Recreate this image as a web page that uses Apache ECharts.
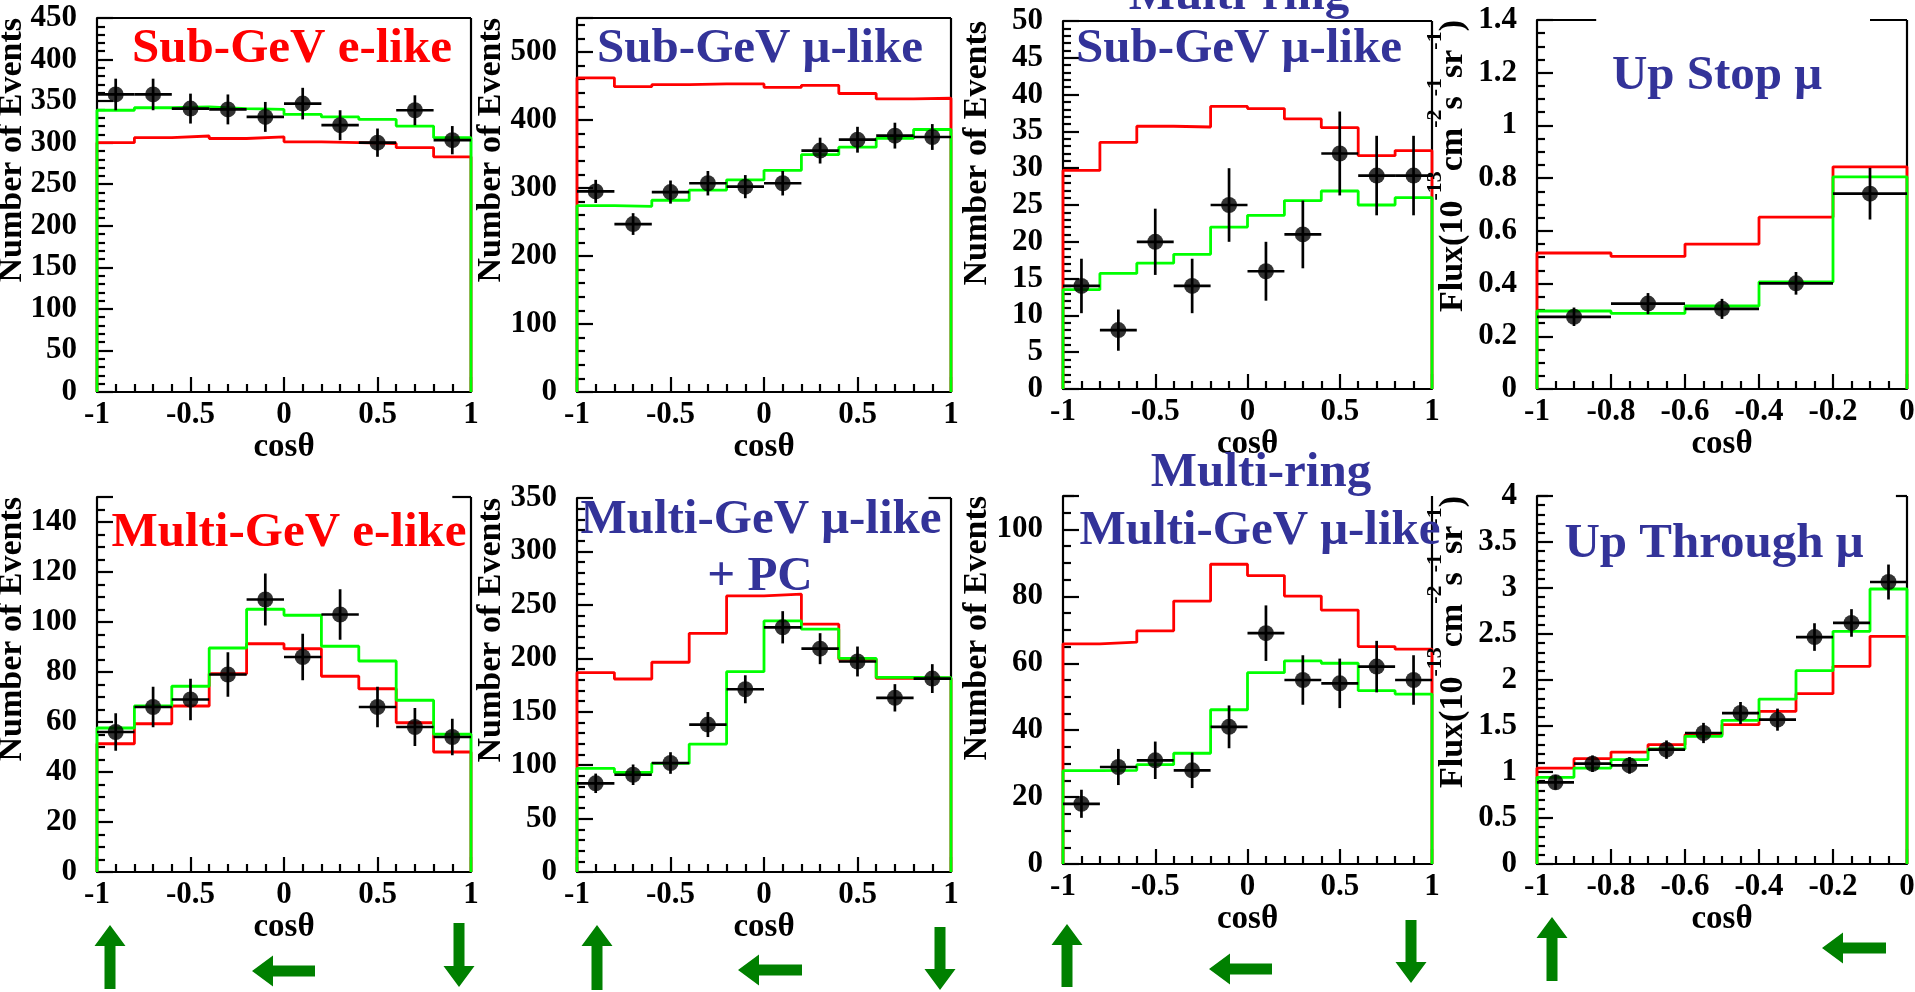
<!DOCTYPE html>
<html>
<head>
<meta charset="utf-8">
<script src="https://cdn.jsdelivr.net/npm/echarts@6.0.0/dist/echarts.min.js"></script>
<style>
  html, body { margin: 0; padding: 0; background: #ffffff; }
  #chart { width: 1915px; height: 992px; }
</style>
</head>
<body>
<div id="chart"></div>
<script>
// ---- binning in cos(zenith) ----
const cosEdges = [-1, -0.8, -0.6, -0.4, -0.2, 0, 0.2, 0.4, 0.6, 0.8, 1];
const upStopEdges = [-1, -0.8, -0.6, -0.4, -0.2, 0];
const upThruEdges = [-1, -0.9, -0.8, -0.7, -0.6, -0.5, -0.4, -0.3, -0.2, -0.1, 0];

// ---- Sub-GeV e-like ----
const sgeData  = [358, 358, 341, 340, 331, 347, 321, 300, 339, 303];
const sgeErr   = [19, 19, 18, 18, 18, 19, 18, 17, 18, 17];
const sgeOsc   = [339, 342, 343, 341, 340, 334, 331, 328, 320, 306];
const sgeNoOsc = [300, 306, 308, 305, 307, 301, 300, 299, 294, 283];

// ---- Sub-GeV mu-like ----
const sgmData  = [295, 247, 294, 307, 302, 307, 355, 371, 377, 375];
const sgmErr   = [17, 16, 17, 18, 17, 18, 19, 19, 19, 19];
const sgmOsc   = [274, 273, 282, 297, 312, 326, 349, 360, 373, 386];
const sgmNoOsc = [462, 449, 452, 453, 453, 448, 451, 439, 431, 432];

// ---- Multi-ring Sub-GeV mu-like ----
const mrsData  = [14, 8, 20, 14, 25, 16, 21, 32, 29, 29];
const mrsErr   = [3.7, 2.8, 4.5, 3.7, 5.0, 4.0, 4.6, 5.7, 5.4, 5.4];
const mrsOsc   = [13.5, 15.7, 17.1, 18.3, 22.0, 23.6, 25.6, 26.9, 25.0, 26.0];
const mrsNoOsc = [29.7, 33.5, 35.7, 35.6, 38.4, 38.1, 36.7, 35.5, 31.7, 32.4];

// ---- Upward stopping muons (flux) ----
const upStopData  = [0.274, 0.324, 0.304, 0.401, 0.741];
const upStopErr   = [0.035, 0.040, 0.038, 0.043, 0.098];
const upStopOsc   = [0.296, 0.287, 0.315, 0.406, 0.805];
const upStopNoOsc = [0.516, 0.503, 0.550, 0.652, 0.843];

// ---- Multi-GeV e-like ----
const mgeData  = [56, 66, 69, 79, 109, 86, 103, 66, 58, 54];
const mgeErr   = [7.5, 8.1, 8.3, 8.9, 10.4, 9.3, 10.1, 8.1, 7.6, 7.3];
const mgeOsc   = [57.6, 66.4, 74.3, 89.6, 105.1, 102.7, 90.3, 84.4, 68.7, 55.1];
const mgeNoOsc = [51.3, 59.3, 66.4, 79.3, 91.3, 89.3, 78.3, 73.3, 59.7, 48.0];

// ---- Multi-GeV mu-like + PC ----
const mgmData  = [83, 91, 102, 138, 171, 229, 209, 197, 163, 181];
const mgmErr   = [9.1, 9.6, 10.1, 11.7, 13.1, 15.1, 14.5, 14.0, 12.8, 13.5];
const mgmOsc   = [96.9, 93.1, 101.6, 119.7, 187.5, 235.0, 227.2, 200.0, 182.2, 181.9];
const mgmNoOsc = [186.6, 180.6, 196.3, 223.4, 258.4, 260.0, 231.9, 199.0, 181.3, 181.3];

// ---- Multi-ring Multi-GeV mu-like ----
const mrmData  = [18, 29, 31, 28, 41, 69, 55, 54, 59, 55];
const mrmErr   = [4.2, 5.4, 5.6, 5.3, 6.4, 8.3, 7.4, 7.4, 7.7, 7.4];
const mrmOsc   = [27.9, 28.0, 29.7, 33.1, 46.1, 57.2, 60.7, 60.0, 51.8, 50.8];
const mrmNoOsc = [65.8, 66.3, 69.7, 78.6, 89.6, 86.2, 80.1, 75.9, 65.0, 64.2];

// ---- Upward through-going muons (flux) ----
const upThruData  = [0.888, 1.090, 1.072, 1.243, 1.424, 1.641, 1.569, 2.467, 2.620, 3.065];
const upThruErr   = [0.08, 0.09, 0.09, 0.10, 0.11, 0.12, 0.12, 0.15, 0.15, 0.19];
const upThruOsc   = [0.942, 1.043, 1.134, 1.250, 1.388, 1.562, 1.793, 2.101, 2.529, 2.989];
const upThruNoOsc = [1.043, 1.145, 1.217, 1.297, 1.406, 1.514, 1.659, 1.851, 2.149, 2.475];

// ---- styling ----
const SERIF = '"Liberation Serif", "DejaVu Serif", serif';
const RED = '#ff0000';
const GREEN = '#00ff00';
const BLUE = '#333399';
const ARROW = '#008000';

// panel layout: plot rectangle, axis ranges and tick settings
const panels = [
  { rect: [97, 18, 374, 374], edges: cosEdges, data: sgeData, err: sgeErr, osc: sgeOsc, noosc: sgeNoOsc,
    xMin: -1, xMax: 1, xInt: 0.5, xMinor: 5, yMax: 450, yInt: 50, yMinor: 5, hideMax: false,
    top: [[0, 1]], yName: 'events', yNameX: 12 },
  { rect: [577, 18, 374, 374], edges: cosEdges, data: sgmData, err: sgmErr, osc: sgmOsc, noosc: sgmNoOsc,
    xMin: -1, xMax: 1, xInt: 0.5, xMinor: 5, yMax: 550, yInt: 100, yMinor: 5, hideMax: true,
    top: [[0, 1]], yName: 'events', yNameX: 491 },
  { rect: [1063, 21, 369, 368], edges: cosEdges, data: mrsData, err: mrsErr, osc: mrsOsc, noosc: mrsNoOsc,
    xMin: -1, xMax: 1, xInt: 0.5, xMinor: 5, yMax: 50, yInt: 5, yMinor: 5, hideMax: false,
    top: [[0, 1]], yName: 'events', yNameX: 977 },
  { rect: [1537, 20, 370, 369], edges: upStopEdges, data: upStopData, err: upStopErr, osc: upStopOsc, noosc: upStopNoOsc,
    xMin: -1, xMax: 0, xInt: 0.2, xMinor: 4, yMax: 1.4, yInt: 0.2, yMinor: 4, hideMax: false,
    top: [[0, 0.16], [0.9, 1]], yName: 'flux', yNameX: 1447 },
  { rect: [97, 497, 374, 375], edges: cosEdges, data: mgeData, err: mgeErr, osc: mgeOsc, noosc: mgeNoOsc,
    xMin: -1, xMax: 1, xInt: 0.5, xMinor: 5, yMax: 150, yInt: 20, yMinor: 4, hideMax: true,
    top: [[0.95, 1]], yName: 'events', yNameX: 12 },
  { rect: [577, 498, 374, 374], edges: cosEdges, data: mgmData, err: mgmErr, osc: mgmOsc, noosc: mgmNoOsc,
    xMin: -1, xMax: 1, xInt: 0.5, xMinor: 5, yMax: 350, yInt: 50, yMinor: 5, hideMax: false,
    top: [[0.94, 1]], yName: 'events', yNameX: 491 },
  { rect: [1063, 496, 369, 368], edges: cosEdges, data: mrmData, err: mrmErr, osc: mrmOsc, noosc: mrmNoOsc,
    xMin: -1, xMax: 1, xInt: 0.5, xMinor: 5, yMax: 110, yInt: 20, yMinor: 4, hideMax: true,
    top: [[0, 0.03]], yName: 'events', yNameX: 977 },
  { rect: [1537, 496, 370, 368], edges: upThruEdges, data: upThruData, err: upThruErr, osc: upThruOsc, noosc: upThruNoOsc,
    xMin: -1, xMax: 0, xInt: 0.2, xMinor: 4, yMax: 4, yInt: 0.5, yMinor: 5, hideMax: false,
    top: [[0, 0.03], [0.97, 1]], yName: 'flux', yNameX: 1447 }
];

// panel captions
const captions = [
  { text: 'Sub-GeV e-like', x: 292, y: 49, color: RED },
  { text: 'Sub-GeV \u03bc-like', x: 760, y: 49, color: BLUE },
  { text: 'Multi-ring', x: 1239, y: -4, color: BLUE },
  { text: 'Sub-GeV \u03bc-like', x: 1239, y: 49, color: BLUE },
  { text: 'Up Stop \u03bc', x: 1717, y: 76, color: BLUE },
  { text: 'Multi-GeV e-like', x: 289, y: 533, color: RED },
  { text: 'Multi-GeV \u03bc-like', x: 761, y: 520, color: BLUE },
  { text: '+ PC', x: 760, y: 577, color: BLUE },
  { text: 'Multi-ring', x: 1261, y: 473, color: BLUE },
  { text: 'Multi-GeV \u03bc-like', x: 1260, y: 531, color: BLUE },
  { text: 'Up Through \u03bc', x: 1714, y: 544, color: BLUE }
];

// direction arrows below the panels (upward / horizontal / downward going)
const upArrows = [[110, 925, 989], [597, 925, 990], [1067, 924, 987], [1552, 917, 981]];
const leftArrows = [[252, 971, 315], [738, 970, 802], [1209, 969, 1272], [1822, 948, 1886]];
const downArrows = [[459, 923, 987], [940, 927, 990], [1411, 920, 983]];

function histPoints(edges, vals) {
  const pts = [[edges[0], 0]];
  vals.forEach((v, i) => { pts.push([edges[i], v]); pts.push([edges[i + 1], v]); });
  pts.push([edges[edges.length - 1], 0]);
  return pts;
}

const grids = [], xAxes = [], yAxes = [], series = [], graphics = [];
const black = { color: '#000', width: 2.2 };
const labelFont = { fontFamily: SERIF, fontWeight: 'bold', fontSize: 31, color: '#000' };

panels.forEach((p, i) => {
  const [L, T, W, H] = p.rect;
  grids.push({ left: L, top: T, width: W, height: H, containLabel: false, outerBoundsMode: 'none' });
  xAxes.push({
    gridIndex: i, type: 'value', min: p.xMin, max: p.xMax, interval: p.xInt,
    axisLine: { show: true, onZero: false, lineStyle: black },
    axisTick: { show: true, inside: true, length: 15, lineStyle: black },
    minorTick: { show: true, splitNumber: p.xMinor, length: 8, lineStyle: black },
    splitLine: { show: false }, minorSplitLine: { show: false },
    axisLabel: Object.assign({ margin: 7, showMinLabel: true, showMaxLabel: true, hideOverlap: false }, labelFont),
    name: 'cos\u03b8', nameLocation: 'middle', nameGap: 31,
    nameTextStyle: { fontFamily: SERIF, fontWeight: 'bold', fontSize: 33, color: '#000' }
  });
  yAxes.push({
    gridIndex: i, type: 'value', min: 0, max: p.yMax, interval: p.yInt,
    axisLine: { show: true, onZero: false, lineStyle: black },
    axisTick: { show: true, inside: true, length: 16, lineStyle: black },
    minorTick: { show: true, splitNumber: p.yMinor, length: 8, lineStyle: black },
    splitLine: { show: false }, minorSplitLine: { show: false },
    axisLabel: Object.assign({ margin: 20, showMinLabel: true, showMaxLabel: !p.hideMax, hideOverlap: false }, labelFont)
  });

  const centers = p.data.map((_, k) => (p.edges[k] + p.edges[k + 1]) / 2);
  const halfW = p.data.map((_, k) => (p.edges[k + 1] - p.edges[k]) / 2);

  series.push({
    type: 'line', xAxisIndex: i, yAxisIndex: i, data: histPoints(p.edges, p.noosc),
    showSymbol: false, symbol: 'none', clip: false, z: 2, animation: false,
    lineStyle: { color: RED, width: 2.8 }
  });
  series.push({
    type: 'line', xAxisIndex: i, yAxisIndex: i, data: histPoints(p.edges, p.osc),
    showSymbol: false, symbol: 'none', clip: false, z: 3, animation: false,
    lineStyle: { color: GREEN, width: 2.8 }
  });
  series.push({
    type: 'custom', xAxisIndex: i, yAxisIndex: i, z: 4, animation: false, clip: false,
    data: p.data.map((v, k) => [centers[k], v, p.err[k], halfW[k]]),
    encode: { x: 0, y: 1 },
    renderItem: (params, api) => {
      const x = api.value(0), y = api.value(1), e = api.value(2), hw = api.value(3);
      const a = api.coord([x - hw, y]), b = api.coord([x + hw, y]);
      const c = api.coord([x, y + e]), d = api.coord([x, y - e]);
      const st = { stroke: '#000', lineWidth: 2.7 };
      return { type: 'group', children: [
        { type: 'line', shape: { x1: a[0], y1: a[1], x2: b[0], y2: b[1] }, style: st },
        { type: 'line', shape: { x1: c[0], y1: c[1], x2: d[0], y2: d[1] }, style: st }
      ] };
    }
  });
  series.push({
    type: 'scatter', xAxisIndex: i, yAxisIndex: i, z: 5, animation: false,
    data: p.data.map((v, k) => [centers[k], v]),
    symbol: 'circle', symbolSize: 16, itemStyle: { color: '#000' }
  });

  // right frame edge and visible pieces of the top edge
  graphics.push({ type: 'line', z: 1, shape: { x1: L + W, y1: T, x2: L + W, y2: T + H }, style: { stroke: '#000', lineWidth: 2.2 } });
  p.top.forEach(([f0, f1]) => {
    graphics.push({ type: 'line', z: 1, shape: { x1: L + W * f0, y1: T, x2: L + W * f1, y2: T }, style: { stroke: '#000', lineWidth: 2.2 } });
  });

  // vertical axis title
  if (p.yName === 'events') {
    graphics.push({
      type: 'text', x: p.yNameX, y: T, rotation: Math.PI / 2, z: 10,
      style: { text: 'Number of Events', font: 'bold 34px ' + SERIF, fill: '#000', align: 'right', verticalAlign: 'middle' }
    });
  } else {
    graphics.push({
      type: 'text', x: p.yNameX, y: T, rotation: Math.PI / 2, z: 10,
      style: {
        text: '{n|Flux(10}{s|-13}{n|cm}{s|-2}{n|s}{s|-1}{n|sr}{s|-1}{n|)}',
        align: 'right', verticalAlign: 'middle',
        rich: {
          n: { fontFamily: SERIF, fontWeight: 'bold', fontSize: 34, lineHeight: 46, verticalAlign: 'bottom', fill: '#000', color: '#000' },
          s: { fontFamily: SERIF, fontWeight: 'bold', fontSize: 22, lineHeight: 22, verticalAlign: 'top', fill: '#000', color: '#000' }
        }
      }
    });
  }
});

captions.forEach(c => {
  graphics.push({
    type: 'text', x: c.x, y: c.y, z: 10,
    style: { text: c.text, font: 'bold 49px ' + SERIF, fill: c.color, align: 'center', verticalAlign: 'middle' }
  });
});

// arrow outlines: shaft 11 px wide, head 31 px wide and 21 px long
const SH = 5.5, HW = 15.5, HL = 21;
upArrows.forEach(([cx, tip, bot]) => {
  graphics.push({ type: 'polygon', z: 10, style: { fill: ARROW }, shape: { points: [
    [cx, tip], [cx + HW, tip + HL], [cx + SH, tip + HL], [cx + SH, bot], [cx - SH, bot], [cx - SH, tip + HL], [cx - HW, tip + HL]
  ] } });
});
downArrows.forEach(([cx, topY, tip]) => {
  graphics.push({ type: 'polygon', z: 10, style: { fill: ARROW }, shape: { points: [
    [cx, tip], [cx + HW, tip - HL], [cx + SH, tip - HL], [cx + SH, topY], [cx - SH, topY], [cx - SH, tip - HL], [cx - HW, tip - HL]
  ] } });
});
leftArrows.forEach(([tip, cy, tail]) => {
  graphics.push({ type: 'polygon', z: 10, style: { fill: ARROW }, shape: { points: [
    [tip, cy], [tip + HL, cy - HW], [tip + HL, cy - SH], [tail, cy - SH], [tail, cy + SH], [tip + HL, cy + SH], [tip + HL, cy + HW]
  ] } });
});

const chart = echarts.init(document.getElementById('chart'), null, { renderer: 'canvas' });
chart.setOption({
  backgroundColor: '#ffffff',
  animation: false,
  grid: grids,
  xAxis: xAxes,
  yAxis: yAxes,
  series: series,
  graphic: { elements: graphics }
});
</script>
</body>
</html>
